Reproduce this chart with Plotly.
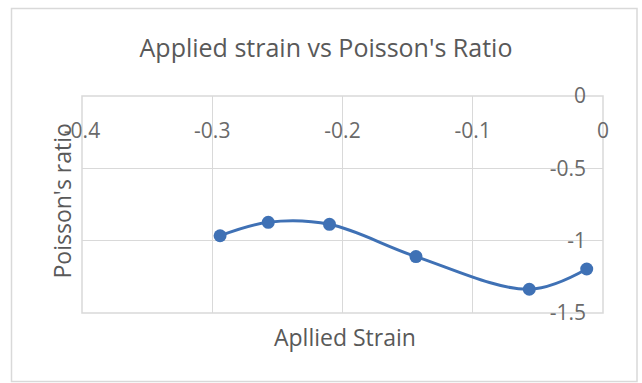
import plotly.graph_objects as go

# Data
applied_strain = [-0.294, -0.257, -0.210, -0.1436, -0.0566, -0.0125]
poisson_ratio = [-0.966, -0.873, -0.887, -1.11, -1.336, -1.196]

x_tick_vals = [-0.4, -0.3, -0.2, -0.1, 0]
x_tick_text = ["-0.4", "-0.3", "-0.2", "-0.1", "0"]
y_tick_vals = [0, -0.5, -1, -1.5]
y_tick_text = ["0", "-0.5", "-1", "-1.5"]

title_text = "Applied strain vs Poisson's Ratio"
x_title = "Apllied Strain"
y_title = "Poisson's ratio"

FONT = "Open Sans"
GRAY = "#595959"
TICKGRAY = "#6a6a6a"
GRID = "#d9d9d9"
BLUE = "#3f71b5"

W, H = 642, 383
L, R, T, B = 82, 603, 96, 313  # plot area pixel box

def px_to_paper_x(px):
    return (px - L) / (R - L)

def px_to_paper_y(py):
    return (B - py) / (B - T)

fig = go.Figure()
fig.add_trace(go.Scatter(
    x=applied_strain, y=poisson_ratio,
    mode="lines+markers",
    line=dict(color=BLUE, width=3, shape="spline", smoothing=1),
    marker=dict(color=BLUE, size=13),
    showlegend=False,
))

fig.update_layout(
    width=W, height=H,
    margin=dict(l=L, r=W - R, t=T, b=H - B),
    paper_bgcolor="white", plot_bgcolor="white",
    font=dict(family=FONT, color=GRAY),
    title=dict(text=title_text, x=326 / W, xanchor="center",
               y=1 - 48 / H, yanchor="middle",
               font=dict(family=FONT, size=25, color=GRAY)),
    xaxis=dict(
        range=[-0.4, 0], tickvals=x_tick_vals, ticktext=x_tick_text,
        showgrid=True, gridcolor=GRID, gridwidth=1,
        zeroline=False, showline=False, ticks="",
        anchor="free", position=px_to_paper_y(116), side="bottom",
        tickfont=dict(family=FONT, size=21, color=TICKGRAY),
    ),
    yaxis=dict(
        range=[-1.5, 0], tickvals=y_tick_vals, ticktext=y_tick_text,
        showgrid=True, gridcolor=GRID, gridwidth=1,
        zeroline=False, showline=False, ticks="",
        anchor="free", position=px_to_paper_x(586), side="left",
        tickfont=dict(family=FONT, size=21, color=TICKGRAY),
    ),
    shapes=[
        dict(type="rect", xref="paper", yref="paper", x0=0, x1=1, y0=0, y1=1,
             line=dict(color=GRID, width=1.5), layer="below"),
        dict(type="rect", xref="paper", yref="paper",
             x0=px_to_paper_x(11.5), x1=px_to_paper_x(637),
             y0=px_to_paper_y(381.5), y1=px_to_paper_y(8.5),
             line=dict(color=GRID, width=1.5), layer="below"),
    ],
    annotations=[
        dict(text=x_title, xref="paper", yref="paper",
             x=px_to_paper_x(344.5), y=px_to_paper_y(337),
             xanchor="center", yanchor="middle", showarrow=False,
             font=dict(family=FONT, size=23, color=GRAY)),
        dict(text=y_title, xref="paper", yref="paper",
             x=px_to_paper_x(61.5), y=px_to_paper_y(201),
             xanchor="center", yanchor="middle", showarrow=False,
             textangle=-90,
             font=dict(family=FONT, size=23, color=GRAY)),
    ],
)

fig.write_html(
    "out.html",
    config={"displayModeBar": False},
    post_script="document.body.style.margin='0';document.body.style.overflow='hidden';",
)
